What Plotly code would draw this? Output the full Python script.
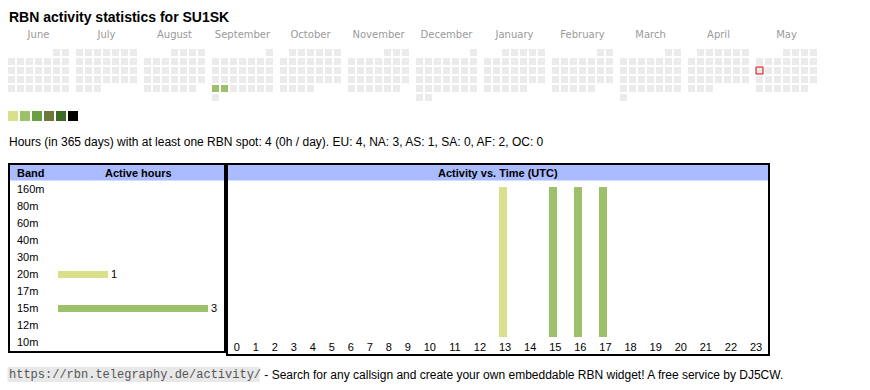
import calendar
import plotly.graph_objects as go

W, H = 870, 390

# ---------------- data ----------------
callsign = "SU1SK"
month_names = ["June", "July", "August", "September", "October", "November",
               "December", "January", "February", "March", "April", "May"]
month_years = [2024, 2024, 2024, 2024, 2024, 2024, 2024, 2025, 2025, 2025, 2025, 2025]
month_numbers = [6, 7, 8, 9, 10, 11, 12, 1, 2, 3, 4, 5]
active_dates = ["2024-09-23", "2024-09-24"]
active_levels = [2, 2]
today = "2025-05-12"
level_colors = ["#ebebeb", "#d9e08b", "#9dc06a", "#6a9e45", "#6b7a3a", "#3d6b27", "#000000"]

total_hours = 4
per_day = "0h"
continents = ["EU", "NA", "AS", "SA", "AF", "OC"]
continent_hours = [4, 3, 1, 0, 2, 0]

bands = ["160m", "80m", "60m", "40m", "30m", "20m", "17m", "15m", "12m", "10m"]
band_hours = [0, 0, 0, 0, 0, 1, 0, 3, 0, 0]
band_colors = {"20m": level_colors[1], "15m": level_colors[2]}

hours = list(range(24))
active_hours = [13, 15, 16, 17]
active_hour_bands = ["20m", "15m", "15m", "15m"]

url = "https://rbn.telegraphy.de/activity/"
footer = " - Search for any callsign and create your own embeddable RBN widget! A free service by DJ5CW."

# ---------------- styles / layout constants ----------------
SANS = "Liberation Sans, Arial, sans-serif"
CAL_FONT = "DejaVu Sans, Verdana, sans-serif"
MONO = "Liberation Mono, Courier New, monospace"
HEADER_BG = "#aabbff"
CELL = 9
MONTH_PITCH = 68
CAL_X = 11.5
CAL_Y = 52.5

# ---------------- calendar ----------------
level_by_date = dict(zip(active_dates, active_levels))
cx, cy, cc, lc, lw = [], [], [], [], []
for m, (yy, mo) in enumerate(zip(month_years, month_numbers)):
    first_wd, ndays = calendar.monthrange(yy, mo)
    for d in range(1, ndays + 1):
        idx = first_wd + d - 1
        col, row = idx % 7, idx // 7
        key = f"{yy:04d}-{mo:02d}-{d:02d}"
        cx.append(CAL_X + m * MONTH_PITCH + col * CELL)
        cy.append(CAL_Y + row * CELL)
        cc.append(level_colors[level_by_date.get(key, 0)])
        is_today = key == today
        lc.append("#e00000" if is_today else "rgba(0,0,0,0)")
        lw.append(1 if is_today else 0)

fig = go.Figure()

fig.add_trace(go.Scatter(
    x=cx, y=cy, mode="markers", xaxis="x", yaxis="y", hoverinfo="skip",
    marker=dict(symbol="square", size=7, color=cc, line=dict(color=lc, width=lw)),
    showlegend=False))

# month labels
fig.add_trace(go.Scatter(
    x=[CAL_X + m * MONTH_PITCH + 3 * CELL for m in range(len(month_names))],
    y=[35] * len(month_names), mode="text", text=month_names,
    textfont=dict(family=CAL_FONT, size=10, color="#9a9a9a"),
    xaxis="x", yaxis="y", hoverinfo="skip", showlegend=False))

# colour scale squares
fig.add_trace(go.Scatter(
    x=[13 + 12 * i for i in range(len(level_colors) - 1)],
    y=[116] * (len(level_colors) - 1), mode="markers", xaxis="x", yaxis="y",
    marker=dict(symbol="square", size=10, color=level_colors[1:], line=dict(width=0)),
    hoverinfo="skip", showlegend=False))

# ---------------- band bars ----------------
BAND_ROW0, BAND_PITCH = 189, 17
fig.add_trace(go.Bar(
    orientation="h", y=bands, x=band_hours, xaxis="x2", yaxis="y2",
    width=7 / BAND_PITCH,
    marker=dict(color=[band_colors.get(b, "#ffffff") for b in bands], line=dict(width=0)),
    text=[str(v) if v else "" for v in band_hours], textposition="outside",
    constraintext="none", cliponaxis=False,
    textfont=dict(family=SANS, size=11, color="#000000"),
    hoverinfo="skip", showlegend=False))

# ---------------- hourly bars ----------------
HOUR_X0, CELL_PAD, DIGIT_W = 227.2, 12.9, 6.1
hour_centers = []
xx = HOUR_X0
for h in hours:
    w = CELL_PAD + DIGIT_W * len(str(h))
    hour_centers.append(xx + w / 2)
    xx += w
BAR_SHIFT = -2.5
fig.add_trace(go.Bar(
    x=[hour_centers[h] + BAR_SHIFT for h in active_hours],
    y=[1] * len(active_hours), width=8, xaxis="x3", yaxis="y3",
    marker=dict(color=[band_colors[b] for b in active_hour_bands], line=dict(width=0)),
    hoverinfo="skip", showlegend=False))

# ---------------- shapes ----------------
shapes = [
    dict(type="rect", xref="x", yref="y", x0=10, x1=224, y0=165, y1=180.5,
         fillcolor=HEADER_BG, line=dict(width=0), layer="below"),
    dict(type="rect", xref="x", yref="y", x0=228, x1=768, y0=165, y1=180.5,
         fillcolor=HEADER_BG, line=dict(width=0), layer="below"),
    dict(type="rect", xref="x", yref="y", x0=9, x1=225, y0=164, y1=352,
         line=dict(color="#000000", width=2)),
    dict(type="rect", xref="x", yref="y", x0=227, x1=769, y0=164, y1=355,
         line=dict(color="#000000", width=2)),
    dict(type="rect", xref="x", yref="y", x0=7.5, x1=259.5, y0=367, y1=382,
         fillcolor="#e8e8e8", line=dict(width=0), layer="below"),
]

# ---------------- annotations ----------------
summary = (f"Hours (in 365 days) with at least one RBN spot: {total_hours} ({per_day} / day). "
           + ", ".join(f"{c}: {v}" for c, v in zip(continents, continent_hours)))


def note(x, y, text, size, family=SANS, color="#000000", xanchor="left", yref="y"):
    return dict(x=x, y=y, xref="x", yref=yref, text=text, xanchor=xanchor, yanchor="middle",
                showarrow=False, borderpad=0, font=dict(family=family, size=size, color=color))


ann = [
    note(8, 17, f"<b>RBN activity statistics for {callsign}</b>", 14),
    note(8, 142, summary, 12),
    note(16, 173, "<b>Band</b>", 11),
    note(138, 173, "<b>Active hours</b>", 11, xanchor="center"),
    note(497.5, 173, "<b>Activity vs. Time (UTC)</b>", 11, xanchor="center"),
    note(8, 374.5, url, 12, family=MONO, color="#555555"),
    note(259.5, 374.5, footer, 12),
]
for b in bands:
    ann.append(note(16, b, b, 11, yref="y2"))

# ---------------- axes ----------------
BAND_X0, BAND_UNIT = 58, 50
HOUR_BASE, HOUR_TOP = 337, 187
LABEL_AXIS = 339
fig.update_layout(
    width=W, height=H, margin=dict(l=0, r=0, t=0, b=0),
    paper_bgcolor="#ffffff", plot_bgcolor="rgba(0,0,0,0)",
    shapes=shapes, annotations=ann, bargap=0,
    xaxis=dict(domain=[0, 1], range=[0, W], visible=False, fixedrange=True),
    yaxis=dict(domain=[0, 1], range=[H, 0], visible=False, fixedrange=True),
    xaxis2=dict(domain=[0, 1], range=[-BAND_X0 / BAND_UNIT, (W - BAND_X0) / BAND_UNIT],
                visible=False, anchor="y2"),
    yaxis2=dict(domain=[0, 1], type="category", categoryorder="array", categoryarray=bands,
                range=[(H - BAND_ROW0) / BAND_PITCH, -BAND_ROW0 / BAND_PITCH],
                visible=False, anchor="x2"),
    xaxis3=dict(domain=[0, 1], range=[0, W], anchor="free", position=(H - LABEL_AXIS) / H,
                showgrid=False, zeroline=False, showline=False, ticks="",
                tickmode="array", tickvals=hour_centers, ticktext=[str(h) for h in hours],
                tickfont=dict(family=SANS, size=11, color="#000000")),
    yaxis3=dict(domain=[0, 1],
                range=[-(H - HOUR_BASE) / (HOUR_BASE - HOUR_TOP), HOUR_BASE / (HOUR_BASE - HOUR_TOP)],
                visible=False, anchor="x3"),
)

fig.write_html("out.html", config={"displayModeBar": False, "staticPlot": True},
               post_script="document.body.style.margin='0';")
